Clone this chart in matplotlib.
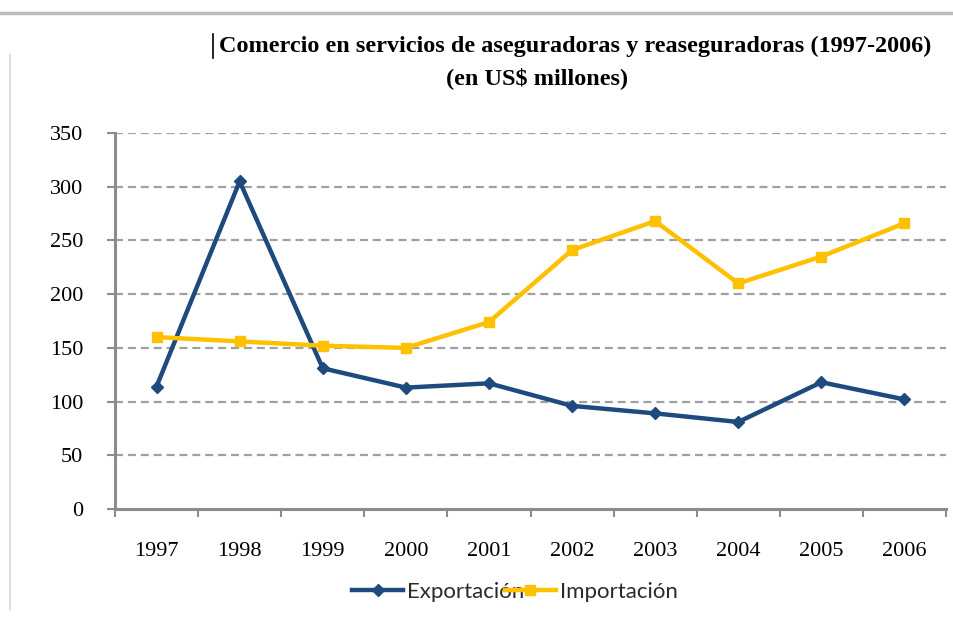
import matplotlib
matplotlib.use("Agg")
import matplotlib.pyplot as plt
from matplotlib.lines import Line2D

years = ["1997", "1998", "1999", "2000", "2001", "2002", "2003", "2004", "2005", "2006"]
exportacion = [114, 305, 131, 113, 117, 96, 89, 81, 118, 102]
importacion = [160, 156, 152, 150, 174, 241, 268, 210, 235, 266]
yticks = [0, 50, 100, 150, 200, 250, 300, 350]

BLUE = "#1F4A7E"
GOLD = "#FFC000"
GRAY = "#8C8C8C"

W, H = 954, 619
fig = plt.figure(figsize=(W / 100, H / 100), dpi=100)
ax = fig.add_axes([115 / W, 1 - 509 / H, (946 - 115) / W, (509 - 133) / H])

x = list(range(len(years)))
ax.plot(x, exportacion, color=BLUE, lw=3.2, marker="D", ms=6, zorder=3, label="Exportación")
ax.plot(x, importacion, color=GOLD, lw=3.2, marker="s", ms=7, zorder=3, label="Importación")

ax.set_xlim(-0.5, len(years) - 0.5)
ax.set_ylim(0, 350)
ax.set_yticks(yticks)
ax.set_yticklabels([str(v) for v in yticks], family="Liberation Serif", fontsize=16)
ax.set_xticks([i - 0.5 for i in range(len(years) + 1)])
ax.set_xticklabels([])
ax.set_xticks(x, minor=True)
ax.set_xticklabels(years, minor=True, family="Liberation Serif", fontsize=16)
ax.tick_params(axis="x", which="minor", length=0, pad=24)
ax.tick_params(axis="x", which="major", length=6, width=1.5, color=GRAY, direction="out")
ax.tick_params(axis="y", length=6, width=1.5, color=GRAY, pad=17, direction="out")

for v in yticks[1:]:
    ax.axhline(v, color="#A0A0A0", lw=1.6, ls=(0, (3.6, 2.2)), zorder=1)

for s in ["top", "right"]:
    ax.spines[s].set_visible(False)
for s in ["left", "bottom"]:
    ax.spines[s].set_color(GRAY)
    ax.spines[s].set_linewidth(2.2)

fig.text(575 / W, 1 - 46 / H, "Comercio en servicios de aseguradoras y reaseguradoras (1997-2006)",
         ha="center", va="center", family="Liberation Serif", fontweight="bold", fontsize=17.5)
fig.text(537 / W, 1 - 78 / H, "(en US$ millones)",
         ha="center", va="center", family="Liberation Serif", fontweight="bold", fontsize=17.5)

# cursor bar and frame lines
fig.add_artist(Line2D([213 / W, 213 / W], [1 - 34 / H, 1 - 58 / H], color="black", lw=1.2))
fig.add_artist(Line2D([0, 1], [1 - 13 / H, 1 - 13 / H], color="#BDBDBD", lw=2.5))
fig.add_artist(Line2D([10 / W, 10 / W], [1 - 55 / H, 1 - 610 / H], color="#D8D8D8", lw=1.2))

leg = fig.legend(loc="center", bbox_to_anchor=(515 / W, 1 - 592 / H), ncol=2, frameon=False,
                 prop={"family": "Lato", "size": 16}, handlelength=2.3,
                 handletextpad=0.18, columnspacing=-0.9, borderpad=0)
for t in leg.get_texts():
    t.set_color("#2A2A2A")

fig.savefig("out.png", dpi=100, facecolor="white")
